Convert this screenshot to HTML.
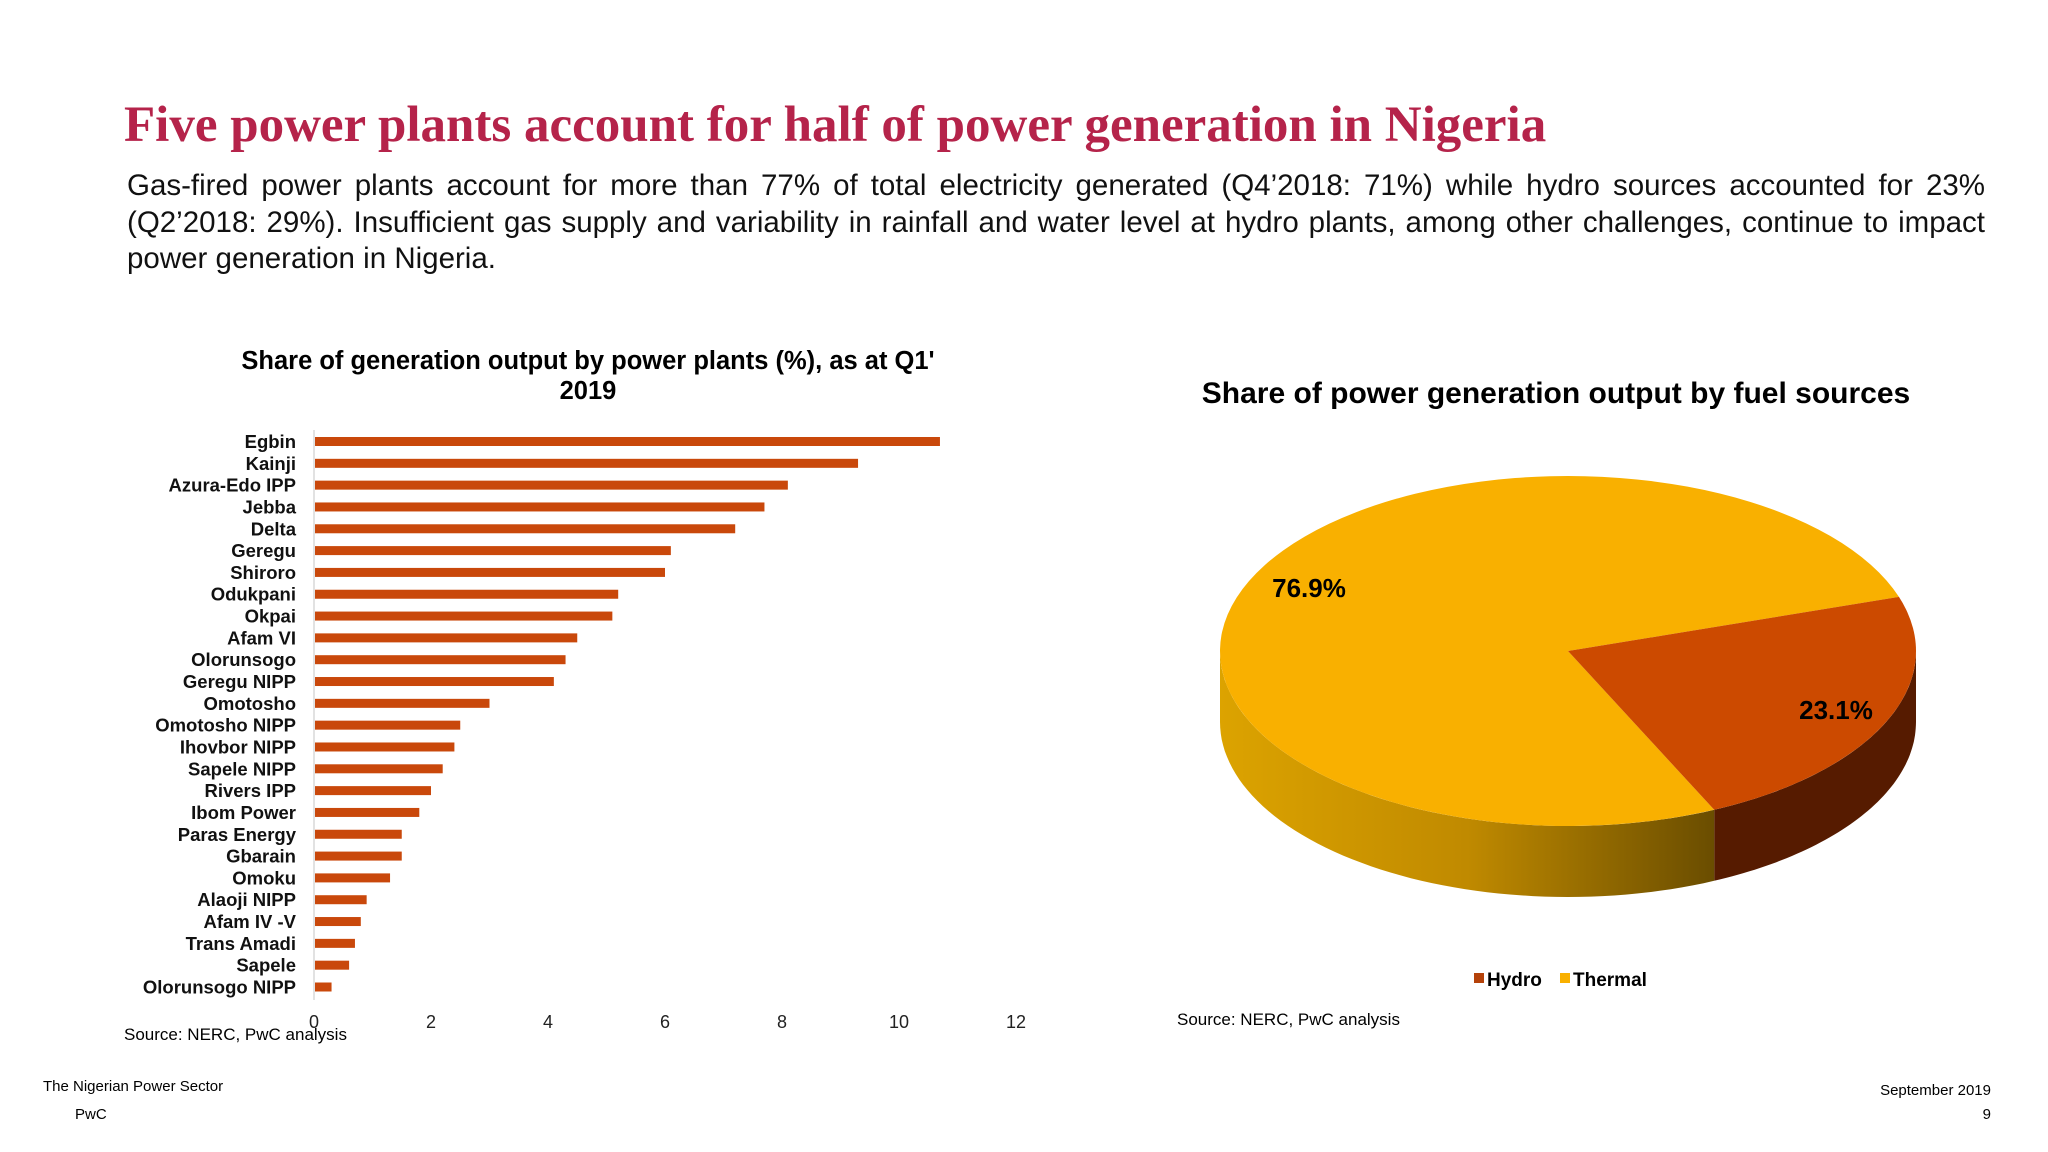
<!DOCTYPE html>
<html><head><meta charset="utf-8"><style>
body{margin:0;background:#fff;}
#root{position:relative;width:2048px;height:1152px;overflow:hidden;font-family:"Liberation Sans",sans-serif;}
.t{position:absolute;white-space:nowrap;}
</style></head><body>
<div id="root">
<div class="t" style="left:124px;top:96px;font-family:'Liberation Serif',serif;font-weight:bold;font-size:51px;color:#b5234a;">Five power plants account for half of power generation in Nigeria</div>
<div style="position:absolute;left:127px;top:168px;width:1858px;font-size:29.5px;line-height:36.5px;color:#111;text-align:justify;">Gas-fired power plants account for more than 77% of total electricity generated (Q4’2018: 71%) while hydro sources accounted for 23% (Q2’2018: 29%). Insufficient gas supply and variability in rainfall and water level at hydro plants, among other challenges, continue to impact power generation in Nigeria.</div>
<svg id="chart" width="2048" height="1152" style="position:absolute;left:0;top:0">
<defs>
<linearGradient id="thermSide" x1="0" x2="1" y1="0" y2="0">
<stop offset="0" stop-color="#dca300"/><stop offset="0.5" stop-color="#c08a00"/><stop offset="1" stop-color="#6a4d00"/>
</linearGradient>
</defs>
</svg>
<div class="t" style="left:124px;top:1025px;font-size:17px;">Source: NERC, PwC analysis</div>
<div class="t" style="left:1177px;top:1010px;font-size:17px;">Source: NERC, PwC analysis</div>
<div class="t" style="left:43px;top:1078px;font-size:15px;">The Nigerian Power Sector</div>
<div class="t" style="left:75px;top:1106px;font-size:15px;">PwC</div>
<div class="t" style="right:57px;top:1082px;font-size:15px;">September 2019</div>
<div class="t" style="right:57px;top:1106px;font-size:15px;">9</div>
</div>
<script>
const plants=["Egbin","Kainji","Azura-Edo IPP","Jebba","Delta","Geregu","Shiroro","Odukpani","Okpai","Afam VI","Olorunsogo","Geregu NIPP","Omotosho","Omotosho NIPP","Ihovbor NIPP","Sapele NIPP","Rivers IPP","Ibom Power","Paras Energy","Gbarain","Omoku","Alaoji NIPP","Afam IV -V","Trans Amadi","Sapele","Olorunsogo NIPP"];
const shares=[10.7,9.3,8.1,7.7,7.2,6.1,6.0,5.2,5.1,4.5,4.3,4.1,3.0,2.5,2.4,2.2,2.0,1.8,1.5,1.5,1.3,0.9,0.8,0.7,0.6,0.3];
const xTicks=[0,2,4,6,8,10,12];
const fuels=["Hydro","Thermal"];
const fuelShares=[23.1,76.9];
const fuelLabels=["23.1%","76.9%"];
const svg=document.getElementById('chart');
const NS='http://www.w3.org/2000/svg';
function mk(tag,attrs,txt){const e=document.createElementNS(NS,tag);for(const k in attrs)e.setAttribute(k,attrs[k]);if(txt!==undefined)e.textContent=txt;svg.appendChild(e);return e;}
const x0=314,xmax=12,pw=702;
const xs=v=>x0+v/xmax*pw;
const yTop=441.5,step=(987-441.5)/(plants.length-1);
const ys=i=>yTop+i*step;
let t=mk('text',{x:588,y:369,'text-anchor':'middle','font-size':25.5,'font-weight':'bold'},"Share of generation output by power plants (%), as at Q1'");

t=mk('text',{x:588,y:399,'text-anchor':'middle','font-size':25.5,'font-weight':'bold'},"2019");

let ax=mk('line',{x1:x0,x2:x0,y1:430,y2:1000,stroke:'#d9d9d9','stroke-width':1.5});

plants.forEach((p,i)=>{
 const b=mk('rect',{x:x0+1,y:ys(i)-4.5,width:xs(shares[i])-x0-1,height:9,fill:'#c9480b'});
 
 
 const l=mk('text',{x:296,y:ys(i)+6.5,'text-anchor':'end','font-size':18.5,'font-weight':'bold',fill:'#111'},p);
 
 
});
xTicks.forEach(v=>{
 const e=mk('text',{x:xs(v),y:1028,'text-anchor':'middle','font-size':18,fill:'#222'},String(v));
 
 
});
t=mk('text',{x:1556,y:403,'text-anchor':'middle','font-size':30,'font-weight':'bold'},"Share of power generation output by fuel sources");

const cx=1568,cy=651,rx=348,ry=175,dep=71;
const a0=-18*Math.PI/180;
const hydroEnd=a0+fuelShares[0]/100*2*Math.PI;
const P=(a,d)=>[cx+rx*Math.cos(a),cy+ry*Math.sin(a)+(d||0)];
function sidePath(a,b){
 if(b<=a)return '';
 let s='';const n=60;
 for(let k=0;k<=n;k++){const q=P(a+(b-a)*k/n);s+=(k?'L':'M')+q[0].toFixed(1)+','+q[1].toFixed(1);}
 for(let k=n;k>=0;k--){const q=P(a+(b-a)*k/n,dep);s+='L'+q[0].toFixed(1)+','+q[1].toFixed(1);}
 return s+'Z';
}
let s1=mk('path',{d:sidePath(Math.max(0,a0),Math.min(Math.PI,hydroEnd)),fill:'#561b00'});

let s2=mk('path',{d:sidePath(Math.max(0,hydroEnd),Math.PI),fill:'url(#thermSide)'});

function slice(a,b,fill){
 const p1=P(a),p2=P(b);const large=(b-a)>Math.PI?1:0;
 return mk('path',{d:`M${cx},${cy}L${p1[0]},${p1[1]}A${rx},${ry} 0 ${large} 1 ${p2[0]},${p2[1]}Z`,fill});
}
let th=slice(hydroEnd,a0+2*Math.PI,'#f9b000');

let hy=slice(a0,hydroEnd,'#cc4a00');

let lh=mk('text',{x:1836,y:719,'text-anchor':'middle','font-size':26,'font-weight':'bold'},fuelLabels[0]);

let lt=mk('text',{x:1309,y:597,'text-anchor':'middle','font-size':26,'font-weight':'bold'},fuelLabels[1]);

const legX=[1474,1560],legC=['#b5420a','#f9b000'];
fuels.forEach((f,i)=>{
 const r=mk('rect',{x:legX[i],y:973,width:10,height:10,fill:legC[i]});
 
 
 const e=mk('text',{x:legX[i]+13,y:986,'font-size':19,'font-weight':'bold'},f);
 
 
});
</script>
</body></html>
